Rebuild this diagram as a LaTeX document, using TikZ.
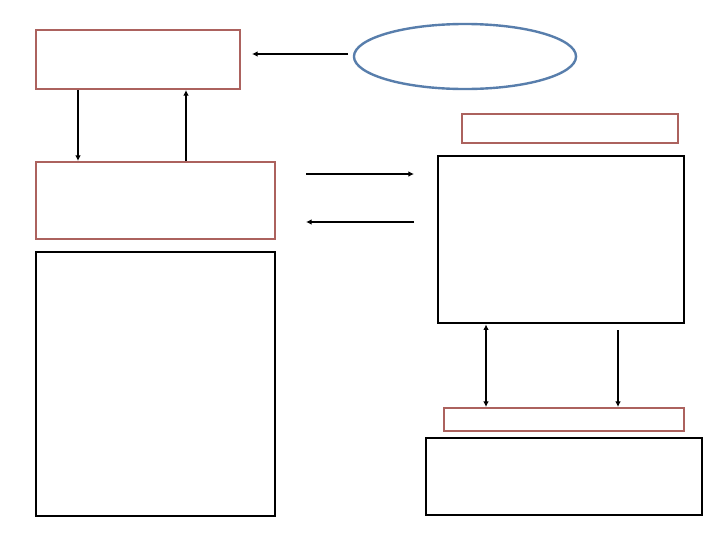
\documentclass[tikz,border=0pt]{standalone}
\usetikzlibrary{arrows.meta,shapes.geometric}
\definecolor{brique}{RGB}{172,98,94}
\definecolor{bleuov}{RGB}{88,126,172}
\tikzset{
  cadre/.style={draw=brique,line width=1.4pt,minimum width=#1,inner sep=0pt},
  bloc/.style={draw=black,line width=1.9pt,minimum width=#1,inner sep=0pt},
  fleche/.style={line width=1.3pt,-{Latex[length=4pt,width=4pt]}},
}
\begin{document}
\begin{tikzpicture}[x=0.025cm,y=-0.025cm]
  \fill[white] (0,0) rectangle (720,540);
  \useasboundingbox (0,0) rectangle (720,540);
  % Blocs de gauche
  \node[cadre=5.1cm,minimum height=1.475cm] (haut) at (138,59.5) {};
  \node[cadre=5.975cm,minimum height=1.925cm] (milieu) at (155.5,200.5) {};
  \node[bloc=5.975cm,minimum height=6.6cm] (grand) at (155.5,384) {};
  % Ellipse
  \node[ellipse,draw=bleuov,line width=1.7pt,minimum width=5.55cm,minimum height=1.625cm,inner sep=0pt] (ovale) at (465,56.5) {};
  % Blocs de droite
  \node[cadre=5.4cm,minimum height=0.725cm] (titre) at (570,128.5) {};
  \node[bloc=6.15cm,minimum height=4.175cm] (centre) at (561,239.5) {};
  \node[cadre=6cm,minimum height=0.575cm] (bande) at (564,419.5) {};
  \node[bloc=6.9cm,minimum height=1.925cm] (bas) at (564,476.5) {};
  % Extremites libres
  \coordinate (ovaleG) at (348,54);
  \coordinate (hautD) at (252,54);
  \coordinate (allerG) at (306,174);
  \coordinate (allerD) at (414,174);
  \coordinate (retourD) at (414,222);
  \coordinate (retourG) at (306,222);
  \coordinate (descente) at (618,330);
  % Fleches
  \draw[fleche] (ovaleG) -- (hautD);
  \draw[fleche] (haut.south -| 78,0) -- (milieu.north -| 78,0);
  \draw[fleche] (milieu.north -| 186,0) -- (haut.south -| 186,0);
  \draw[fleche] (allerG) -- (allerD);
  \draw[fleche] (retourD) -- (retourG);
  \draw[fleche,{Latex[length=4pt,width=4pt]}-{Latex[length=4pt,width=4pt]}] (centre.south -| 486,0) -- (bande.north -| 486,0);
  \draw[fleche] (descente) -- (bande.north -| descente);
\end{tikzpicture}
\end{document}
